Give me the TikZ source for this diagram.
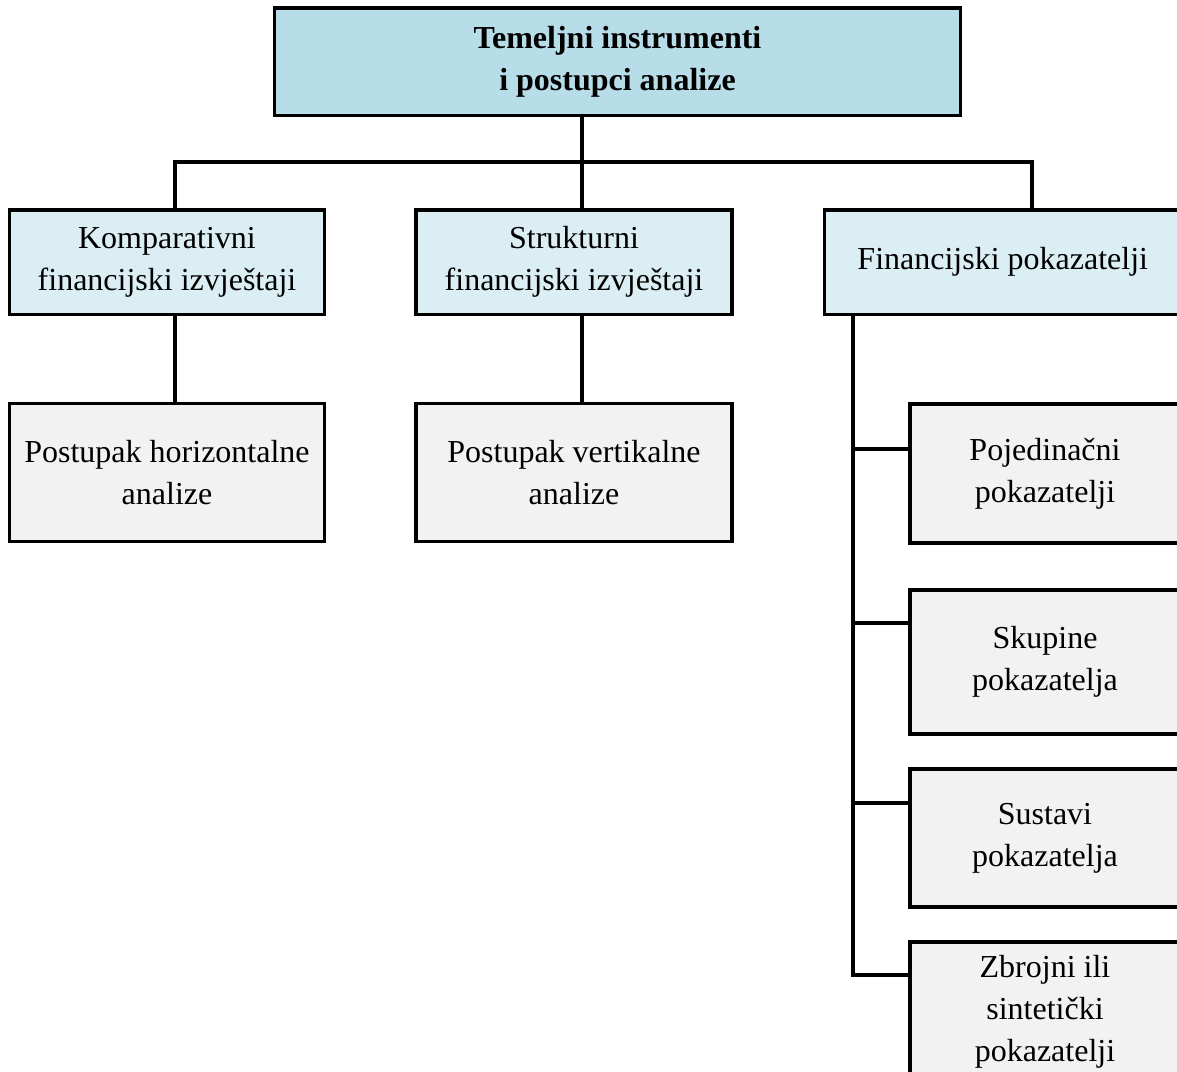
\documentclass[tikz,border=0pt]{standalone}
\usepackage{fontspec}
\setmainfont{Liberation Serif}
\usepackage{tikz}

\definecolor{headblue}{RGB}{183,221,232}
\definecolor{paleblue}{RGB}{218,238,243}
\definecolor{palegray}{RGB}{242,242,242}

\begin{document}
\begin{tikzpicture}[x=0.5pt, y=-0.5pt,
    line width=1.7pt,
    box/.style={draw, rectangle, inner sep=0pt, align=center,
        font=\fontsize{16pt}{21pt}\selectfont},
    headbox/.style={box, fill=headblue, font=\fontsize{16pt}{21pt}\selectfont\bfseries},
    groupbox/.style={box, fill=paleblue},
    leafbox/.style={box, fill=palegray}]
            \clip (0,0) rectangle (1177,1071);

            % Head
            \node[headbox, minimum width=343pt, minimum height=53.75pt] (head) at (617.5,61.75) {Temeljni instrumenti\\i postupci analize};

            % Groups
            \node[groupbox, minimum width=157.5pt, minimum height=52.25pt] (g1) at (167,262.25) {Komparativni\\financijski izvještaji};
            \node[groupbox, minimum width=158pt, minimum height=52.25pt] (g2) at (574,262.25) {Strukturni\\financijski izvještaji};
            \node[groupbox, minimum width=178.25pt, minimum height=52.25pt] (g3) at (1002.75,262.25) {Financijski pokazatelji};

            % Procedures
            \node[leafbox, minimum width=157.5pt, minimum height=69pt] (a1) at (167,472.5) {Postupak horizontalne\\analize};
            \node[leafbox, minimum width=158pt, minimum height=69pt] (a2) at (574,472.5) {Postupak vertikalne\\analize};

            % Ratios
            \node[leafbox, minimum width=135pt, minimum height=69.5pt] (r1) at (1045,473.5) {Pojedinačni\\pokazatelji};
            \node[leafbox, minimum width=135pt, minimum height=72pt] (r2) at (1045,662) {Skupine\\pokazatelja};
            \node[leafbox, minimum width=135pt, minimum height=69pt] (r3) at (1045,838) {Sustavi\\pokazatelja};
            \node[leafbox, minimum width=135pt, minimum height=70pt] (r4) at (1045,1012) {Zbrojni ili\\sintetički\\pokazatelji};

            % Junctions
            \coordinate (hub) at (582,162);
            \coordinate (b1) at (175,162);
            \coordinate (b3) at (1032,162);
            \coordinate (s1) at (853,449);
            \coordinate (s2) at (853,623);
            \coordinate (s3) at (853,803);
            \coordinate (s4) at (853,975);

            % Tree lines
            \draw (head.south -| hub) -- (hub);
            \draw (g1.north -| b1) -- (b1) -- (b3) -- (g3.north -| b3);
            \draw (hub) -- (g2.north -| hub);
            \draw (g1.south -| b1) -- (a1.north -| b1);
            \draw (g2.south -| hub) -- (a2.north -| hub);
            \draw (g3.south -| s4) -- (s4) -- (s4 -| r4.west);
            \draw (s1) -- (s1 -| r1.west);
            \draw (s2) -- (s2 -| r2.west);
            \draw (s3) -- (s3 -| r3.west);

\end{tikzpicture}
\end{document}
